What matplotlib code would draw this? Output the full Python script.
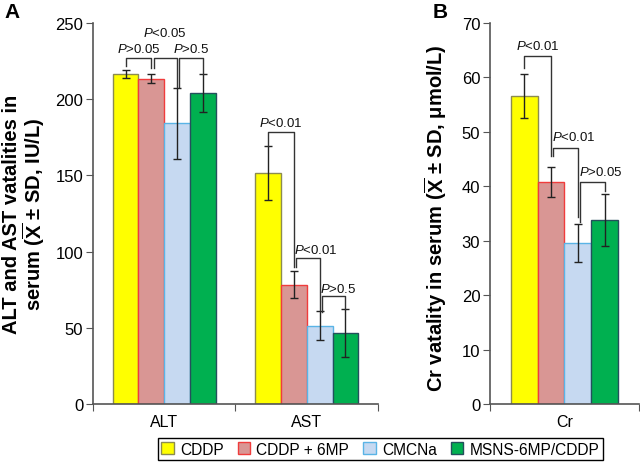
import matplotlib
matplotlib.use('Agg')
import matplotlib.pyplot as plt
import numpy as np

plt.rcParams['font.family'] = ['Liberation Sans', 'DejaVu Sans']
plt.rcParams['mathtext.fontset'] = 'custom'
plt.rcParams['mathtext.it'] = 'Liberation Sans:italic'
plt.rcParams['mathtext.rm'] = 'Liberation Sans'
plt.rcParams['mathtext.bf'] = 'Liberation Sans:bold'

# ---- data ----
categories_A = ['ALT', 'AST']
categories_B = ['Cr']
groups = ['CDDP', 'CDDP + 6MP', 'CMCNa', 'MSNS-6MP/CDDP']

# values in order ALT, AST, Cr
cddp = [216.5, 151.5, 56.6]
cddp_sd = [2.7, 17.8, 4.1]
cddp_6mp = [213.5, 78.3, 40.8]
cddp_6mp_sd = [2.7, 8.7, 2.7]
cmcna = [184.2, 51.4, 29.6]
cmcna_sd = [23.3, 9.6, 3.5]
msns = [204.0, 46.5, 33.8]
msns_sd = [12.3, 15.6, 4.8]

fill_colors = ['#FFFF00', '#D99694', '#C6D9F1', '#00B050']
edge_colors = ['#8C8C50', '#F03C3C', '#5AB4E6', '#24505C']

# significance brackets: (category, bar i, bar j, bracket y, left end, right end, label, label y, align)
sig_A = [
    (0, 0, 1, 226.8, 222.0, 220.5, 'P>0.05', 233.4, 'center'),
    (0, 1, 2, 226.8, 220.5, 208.0, 'P<0.05', 243.9, 'center'),
    (0, 2, 3, 226.8, 208.0, 216.5, 'P>0.5', 233.4, 'center'),
    (1, 0, 1, 178.7, 169.5, 89.7, 'P<0.01', 184.4, 'center'),
    (1, 1, 2, 95.6, 89.7, 61.5, 'P<0.01', 101.2, 'left'),
    (1, 2, 3, 71.1, 60.1, 62.3, 'P>0.5', 75.9, 'left'),
]
sig_B = [
    (0, 0, 1, 64.0, 61.8, 45.5, 'P<0.01', 65.8, 'center'),
    (0, 1, 2, 47.0, 45.5, 34.3, 'P<0.01', 49.2, 'left'),
    (0, 2, 3, 40.8, 33.4, 39.2, 'P>0.05', 42.7, 'left'),
]

W = 0.181
AX_COL = '#555555'


def draw_panel(ax, cats, sl, ymax, ystep, sigs):
    x = np.arange(len(cats))
    series = [(cddp, cddp_sd), (cddp_6mp, cddp_6mp_sd), (cmcna, cmcna_sd), (msns, msns_sd)]
    bars = []
    for k, (vals, sds) in enumerate(series):
        b = ax.bar(x + (k - 1.5) * W, vals[sl], W, yerr=sds[sl],
                   color=fill_colors[k], edgecolor=edge_colors[k], linewidth=1,
                   label=groups[k],
                   error_kw=dict(ecolor='#222222', elinewidth=1, capsize=3, capthick=1))
        bars.append(b)

    for c, i, j, y, yl, yr, txt, ty, ha in sigs:
        x1 = c + (i - 1.5) * W + (0.016 if i > 0 else 0)
        x2 = c + (j - 1.5) * W
        ax.plot([x1, x1, x2, x2], [yl, y, y, yr], color='#333333', lw=1, clip_on=False)
        label = r'$\mathit{P}$' + txt[1:]
        tx = (x1 + x2) / 2 if ha == 'center' else x1 - 0.012
        ax.text(tx, ty, label, ha=ha, va='center', fontsize=9.5, color='#111111')

    ax.set_xlim(-0.5, len(cats) - 0.5)
    ax.set_ylim(0, ymax)
    ax.set_yticks(np.arange(0, ymax + 1, ystep))
    ax.set_xticks(np.arange(-0.5, len(cats), 1))
    ax.set_xticklabels([])
    ax.set_xticks(x, minor=True)
    ax.set_xticklabels(cats, minor=True)
    ax.tick_params(axis='x', which='minor', length=0, pad=7, labelsize=11.5)
    ax.tick_params(axis='x', which='major', length=5, color=AX_COL)
    ax.tick_params(axis='y', length=5, color=AX_COL, labelsize=12, pad=2)
    for s in ['top', 'right']:
        ax.spines[s].set_visible(False)
    for s in ['left', 'bottom']:
        ax.spines[s].set_color(AX_COL)
        ax.spines[s].set_linewidth(1.2)
    return bars


fig = plt.figure(figsize=(6.4, 4.64), dpi=100)
axA = fig.add_axes([0.1453, 0.1272, 0.4453, 0.8211])
axB = fig.add_axes([0.7656, 0.1272, 0.2328, 0.8211])

bars = draw_panel(axA, categories_A, slice(0, 2), 250, 50, sig_A)
draw_panel(axB, categories_B, slice(2, 3), 70, 10, sig_B)

axA.set_ylabel('ALT and AST vatalities in\n' + r'serum ($\overline{\mathbf{X}}$ ± SD, IU/L)',
               fontsize=14.5, fontweight='bold', linespacing=0.95)
axA.yaxis.set_label_coords(-0.16, 0.5)
axB.set_ylabel(r'Cr vatality in serum ($\overline{\mathbf{X}}$ ± SD, μmol/L)',
               fontsize=14.5, fontweight='bold')
axB.yaxis.set_label_coords(-0.275, 0.49)

fig.text(0.019, 0.974, 'A', fontsize=15, fontweight='bold', ha='center', va='center')
fig.text(0.6875, 0.974, 'B', fontsize=15, fontweight='bold', ha='center', va='center')

leg = fig.legend(handles=bars, labels=groups, loc='center', bbox_to_anchor=(0.594, 0.03),
                 ncol=4, frameon=True, fancybox=False, edgecolor='black', framealpha=1,
                 fontsize=11.2, handlelength=0.8, handleheight=0.8, handletextpad=0.4,
                 columnspacing=0.9, borderpad=0.22, borderaxespad=0)
leg.get_frame().set_linewidth(1)

fig.savefig('out.png', dpi=100)
